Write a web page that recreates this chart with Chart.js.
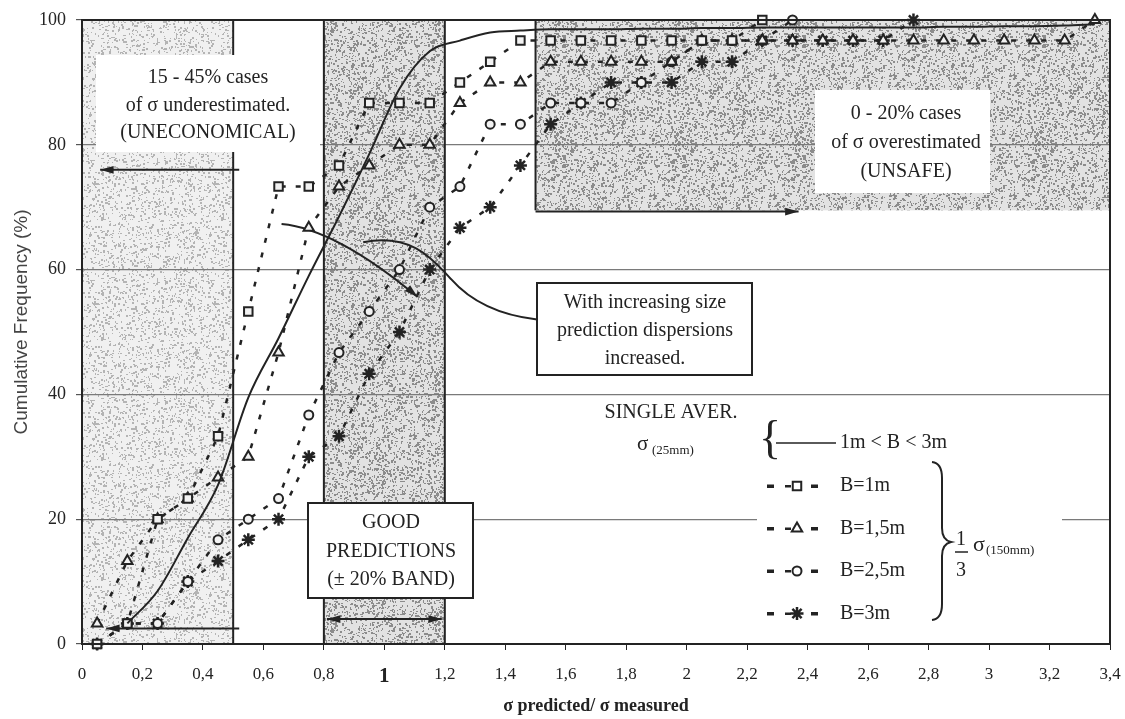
<!DOCTYPE html>
<html>
<head>
<meta charset="utf-8">
<script src="https://cdn.jsdelivr.net/npm/chart.js@4.4.1/dist/chart.umd.min.js"></script>
<style>
html, body { margin: 0; padding: 0; background: #fff; }
#wrap { width: 1125px; height: 719px; }
</style>
</head>
<body>
<div id="wrap"><canvas id="grafikFrekuensi" width="1125" height="719"></canvas></div>
<script>
// class centres of sigma predicted / sigma measured
const bins = [0.05, 0.15, 0.25, 0.35, 0.45, 0.55, 0.65, 0.75, 0.85, 0.95, 1.05, 1.15, 1.25, 1.35, 1.45, 1.55, 1.65,
    1.75, 1.85, 1.95, 2.05, 2.15, 2.25, 2.35, 2.45, 2.55, 2.65, 2.75, 2.85, 2.95, 3.05, 3.15, 3.25, 3.35];
// single average sigma(25mm), 1m < B < 3m (starts at 0.15)
const aver = [3.3, 8.5, 17, 25.5, 39.5, 49, 59, 68.5, 78.5, 89, 95, 96.7, 98, 98.3, 98.5, 98.5, 98.5, 98.6, 98.6, 98.7,
    98.7, 98.8, 98.8, 98.8, 98.8, 98.8, 98.8, 98.9, 98.9, 99, 99, 99.1, 99.3];
const b1m = [0, 3.3, 20, 23.3, 33.3, 53.3, 73.3, 73.3, 76.7, 86.7, 86.7, 86.7, 90, 93.3, 96.7, 96.7, 96.7, 96.7, 96.7,
    96.7, 96.7, 96.7, 100];
const b15m = [3.3, 13.3, 20, 23.3, 26.7, 30, 46.7, 66.7, 73.3, 76.7, 80, 80, 86.7, 90, 90, 93.3, 93.3, 93.3, 93.3, 93.3,
    96.7, 96.7, 96.7, 96.7, 96.7, 96.7, 96.7, 96.7, 96.7, 96.7, 96.7, 96.7, 96.7, 100];
const b25m = [0, 3.3, 3.3, 10, 16.7, 20, 23.3, 36.7, 46.7, 53.3, 60, 70, 73.3, 83.3, 83.3, 86.7, 86.7, 86.7, 90, 93.3,
    96.7, 96.7, 96.7, 100];
const b3m = [0, 3.3, 3.3, 10, 13.3, 16.7, 20, 30, 33.3, 43.3, 50, 60, 66.7, 70, 76.7, 83.3, 86.7, 90, 90, 90, 93.3, 93.3,
    96.7, 96.7, 96.7, 96.7, 96.7, 100];
const xTicks = [0, 0.2, 0.4, 0.6, 0.8, 1, 1.2, 1.4, 1.6, 1.8, 2, 2.2, 2.4, 2.6, 2.8, 3, 3.2, 3.4];
const yTicks = [0, 20, 40, 60, 80, 100];

const serif = '"Liberation Serif", "Times New Roman", serif';
const tinta = '#232323';

const titik = (vals, start) => vals.map((v, i) => ({ x: bins[start + i], y: v }));

const canvas = document.getElementById('grafikFrekuensi');
const ctx = canvas.getContext('2d');

// grainy grey fill like the scanned shading
function bintik(base, dot, n, seed) {
    const c = document.createElement('canvas');
    c.width = 120; c.height = 120;
    const g = c.getContext('2d');
    g.fillStyle = base;
    g.fillRect(0, 0, 120, 120);
    let s = seed;
    const acak = () => (s = (s * 16807) % 2147483647) / 2147483647;
    g.fillStyle = dot;
    for (let i = 0; i < n; i++) {
        g.fillRect(Math.floor(acak() * 120), Math.floor(acak() * 120), 1 + Math.floor(acak() * 2), 1 + Math.floor(acak() * 2));
    }
    return ctx.createPattern(c, 'repeat');
}
const arsirMuda = bintik('#f0f0f0', '#b4b4b4', 1300, 11);
const arsirTua = bintik('#e2e2e2', '#8c8c8c', 1900, 29);

function panah(c, x1, y1, x2, y2) {
    const a = Math.atan2(y2 - y1, x2 - x1);
    c.beginPath();
    c.moveTo(x2, y2);
    c.lineTo(x2 - 14 * Math.cos(a - 0.28), y2 - 14 * Math.sin(a - 0.28));
    c.lineTo(x2 - 14 * Math.cos(a + 0.28), y2 - 14 * Math.sin(a + 0.28));
    c.closePath();
    c.fill();
}

function garisPanah(c, x1, y1, x2, y2, dua) {
    c.beginPath();
    c.moveTo(x1, y1);
    c.lineTo(x2, y2);
    c.stroke();
    panah(c, x1, y1, x2, y2);
    if (dua) panah(c, x2, y2, x1, y1);
}

function kotak(c, x, y, w, h, garis) {
    c.fillStyle = '#fff';
    c.fillRect(x, y, w, h);
    if (garis) {
        c.strokeStyle = tinta;
        c.lineWidth = 2;
        c.strokeRect(x, y, w, h);
    }
}

function teks(c, baris, cx, y0, step, size) {
    c.fillStyle = tinta;
    c.font = size + 'px ' + serif;
    c.textAlign = 'center';
    c.textBaseline = 'middle';
    baris.forEach((t, i) => c.fillText(t, cx, y0 + i * step));
}

const hiasan = {
    id: 'hiasan',
    beforeDraw(chart) {
        const { ctx: c, scales: { x, y } } = chart;
        const isi = (pat, x0, x1, y0, y1) => {
            c.fillStyle = pat;
            c.fillRect(x.getPixelForValue(x0), y.getPixelForValue(y1),
                x.getPixelForValue(x1) - x.getPixelForValue(x0), y.getPixelForValue(y0) - y.getPixelForValue(y1));
        };
        c.save();
        isi(arsirMuda, 0, 0.5, 0, 100);
        isi(arsirTua, 0.8, 1.2, 0, 100);
        isi(arsirTua, 1.5, 3.4, 69.5, 100);
        c.restore();
    },
    beforeDatasetsDraw(chart) {
        const { ctx: c, scales: { x, y } } = chart;
        const px = v => x.getPixelForValue(v);
        const py = v => y.getPixelForValue(v);
        c.save();
        c.strokeStyle = tinta;
        c.fillStyle = tinta;
        c.lineWidth = 2;
        [[0.5, 0], [0.8, 0], [1.2, 0], [1.5, 69.5]].forEach(([v, bawah]) => {
            c.beginPath();
            c.moveTo(px(v), py(100));
            c.lineTo(px(v), py(bawah));
            c.stroke();
        });
        garisPanah(c, px(0.52), py(76), px(0.06), py(76));
        garisPanah(c, px(0.52), py(2.5), px(0.08), py(2.5));
        garisPanah(c, px(0.81), py(4), px(1.19), py(4), true);
        garisPanah(c, px(1.5), py(69.3), px(2.37), py(69.3));
        // curved arrow into the band
        c.beginPath();
        c.moveTo(px(0.66), py(67.3));
        c.quadraticCurveTo(px(0.84), py(66.5), px(1.11), py(55.6));
        c.stroke();
        panah(c, px(0.95), py(62.5), px(1.11), py(55.6));
        // connector from the text box
        c.beginPath();
        c.moveTo(px(0.93), py(64.4));
        c.bezierCurveTo(px(1.1), py(66), px(1.17), py(61), px(1.22), py(58.5));
        c.quadraticCurveTo(px(1.32), py(53), px(1.505), py(52));
        c.stroke();
        c.restore();
    },
    afterDatasetsDraw(chart) {
        const { ctx: c, chartArea: a } = chart;
        c.save();
        // text boxes
        kotak(c, 96, 55, 224, 97, false);
        teks(c, ['15 - 45% cases', 'of \u03c3 underestimated.', '(UNECONOMICAL)'], 208, 78, 27.5, 20);
        kotak(c, 815, 90, 175, 103, false);
        teks(c, ['0 - 20% cases', 'of \u03c3 overestimated', '(UNSAFE)'], 906, 114, 29, 20);
        kotak(c, 537, 283, 215, 92, true);
        teks(c, ['With increasing size', 'prediction dispersions', 'increased.'], 645, 303, 28, 20);
        kotak(c, 308, 503, 165, 95, true);
        teks(c, ['GOOD', 'PREDICTIONS', '(\u00b1 20% BAND)'], 391, 523, 28.5, 20);

        // legend
        kotak(c, 757, 400, 305, 240, false);
        teks(c, ['SINGLE AVER.'], 671, 413, 0, 20);
        c.textAlign = 'left';
        c.font = '21px ' + serif;
        c.fillText('\u03c3', 637, 444);
        c.font = '13px ' + serif;
        c.fillText('(25mm)', 652, 451);
        c.font = '46px ' + serif;
        c.textAlign = 'center';
        c.fillText('{', 770, 441);
        c.strokeStyle = tinta;
        c.lineWidth = 1.5;
        c.beginPath();
        c.moveTo(776, 443);
        c.lineTo(836, 443);
        c.stroke();
        c.font = '20px ' + serif;
        c.textAlign = 'left';
        c.fillText('1m < B < 3m', 840, 443);

        const entri = [['rect', 'B=1m', 6], ['triangle', 'B=1,5m', 6], ['circle', 'B=2,5m', 4.5], ['star', 'B=3m', 6.5]];
        entri.forEach(([gaya, label, r], i) => {
            const yy = 486 + i * 42.5;
            c.fillStyle = tinta;
            c.fillRect(767, yy - 1.5, 7, 3.5);
            c.fillRect(811, yy - 1.5, 7, 3.5);
            c.fillRect(785, yy - 1, 6, 2.5);
            c.strokeStyle = tinta;
            c.fillStyle = '#fff';
            c.lineWidth = gaya === 'star' ? 2.5 : 2;
            Chart.helpers.drawPoint(c, { pointStyle: gaya, radius: r, rotation: 0, borderWidth: 2 }, 797, yy);
            c.fillStyle = tinta;
            c.font = '20px ' + serif;
            c.fillText(label, 840, yy);
        });
        // right brace
        c.lineWidth = 2;
        c.beginPath();
        c.moveTo(932, 462);
        c.quadraticCurveTo(942, 463, 942, 478);
        c.lineTo(942, 528);
        c.quadraticCurveTo(942, 540, 951, 542);
        c.quadraticCurveTo(942, 544, 942, 556);
        c.lineTo(942, 604);
        c.quadraticCurveTo(942, 619, 932, 620);
        c.stroke();
        c.font = '20px ' + serif;
        c.fillText('1', 956, 540);
        c.fillText('3', 956, 571);
        c.lineWidth = 1.5;
        c.beginPath();
        c.moveTo(955, 552);
        c.lineTo(968, 552);
        c.stroke();
        c.font = '22px ' + serif;
        c.fillText('\u03c3', 973, 545);
        c.font = '13px ' + serif;
        c.fillText('(150mm)', 986, 551);

        // frame
        c.strokeStyle = tinta;
        c.lineWidth = 2;
        c.strokeRect(a.left, a.top, a.right - a.left, a.bottom - a.top);
        c.restore();
    },
    afterDraw(chart) {
        const { ctx: c, chartArea: a } = chart;
        c.save();
        c.fillStyle = '#444';
        c.font = '19px "Liberation Sans", Arial, sans-serif';
        c.textAlign = 'center';
        c.textBaseline = 'middle';
        c.translate(22, (a.top + a.bottom) / 2 - 10);
        c.rotate(-Math.PI / 2);
        c.fillText('Cumulative Frequency (%)', 0, 0);
        c.restore();
        c.save();
        c.fillStyle = tinta;
        c.font = 'bold 18px ' + serif;
        c.textAlign = 'center';
        c.textBaseline = 'middle';
        c.fillText('\u03c3 predicted/ \u03c3 measured', (a.left + a.right) / 2, 706);
        c.restore();
    }
};

const seri = (label, vals, gaya, r) => ({
    label: label,
    data: titik(vals, 0),
    showLine: true,
    clip: false,
    borderColor: tinta,
    borderWidth: 2.5,
    borderDash: [5, 10],
    pointStyle: gaya,
    pointRadius: r,
    pointBorderWidth: gaya === 'star' ? 2.5 : 2,
    pointBorderColor: tinta,
    pointBackgroundColor: '#f2f2f2'
});

const chart = new Chart(ctx, {
    type: 'scatter',
    data: {
        datasets: [
            {
                label: '1m < B < 3m',
                data: titik(aver, 1),
                showLine: true,
                borderColor: tinta,
                borderWidth: 2,
                pointRadius: 0,
                cubicInterpolationMode: 'monotone'
            },
            seri('B=1m', b1m, 'rect', 6),
            seri('B=1,5m', b15m, 'triangle', 6),
            seri('B=2,5m', b25m, 'circle', 4.5),
            seri('B=3m', b3m, 'star', 6.5)
        ]
    },
    options: {
        responsive: false,
        animation: false,
        devicePixelRatio: 1,
        layout: { padding: { top: 20, right: 15, left: 0, bottom: 0 } },
        plugins: {
            legend: { display: false },
            tooltip: { enabled: false }
        },
        scales: {
            x: {
                type: 'linear',
                min: 0,
                max: 3.4,
                afterBuildTicks: s => { s.ticks = xTicks.map(v => ({ value: v })); },
                afterFit: s => { s.height = 75; s.paddingRight = 0; s.paddingLeft = 0; },
                border: { color: tinta, width: 2 },
                grid: { drawOnChartArea: false, drawTicks: true, tickLength: 6, color: tinta },
                ticks: {
                    color: tinta,
                    padding: 14,
                    maxRotation: 0,
                    autoSkip: false,
                    font: c => (c.tick && c.tick.value === 1)
                        ? { family: serif, size: 21, weight: 'bold' }
                        : { family: serif, size: 17 },
                    callback: v => String(Math.round(v * 10) / 10).replace('.', ',')
                }
            },
            y: {
                min: 0,
                max: 100,
                afterBuildTicks: s => { s.ticks = yTicks.map(v => ({ value: v })); },
                afterFit: s => { s.width = 82; s.paddingTop = 0; s.paddingBottom = 0; },
                border: { color: tinta, width: 2 },
                grid: {
                    color: c => (c.tick && (c.tick.value === 0 || c.tick.value === 100)) ? 'rgba(0,0,0,0)' : '#7a7a7a',
                    tickColor: '#555',
                    tickLength: 6,
                    lineWidth: 1.2
                },
                ticks: {
                    color: tinta,
                    padding: 10,
                    font: { family: serif, size: 18 }
                }
            }
        }
    },
    plugins: [hiasan]
});
</script>
</body>
</html>
